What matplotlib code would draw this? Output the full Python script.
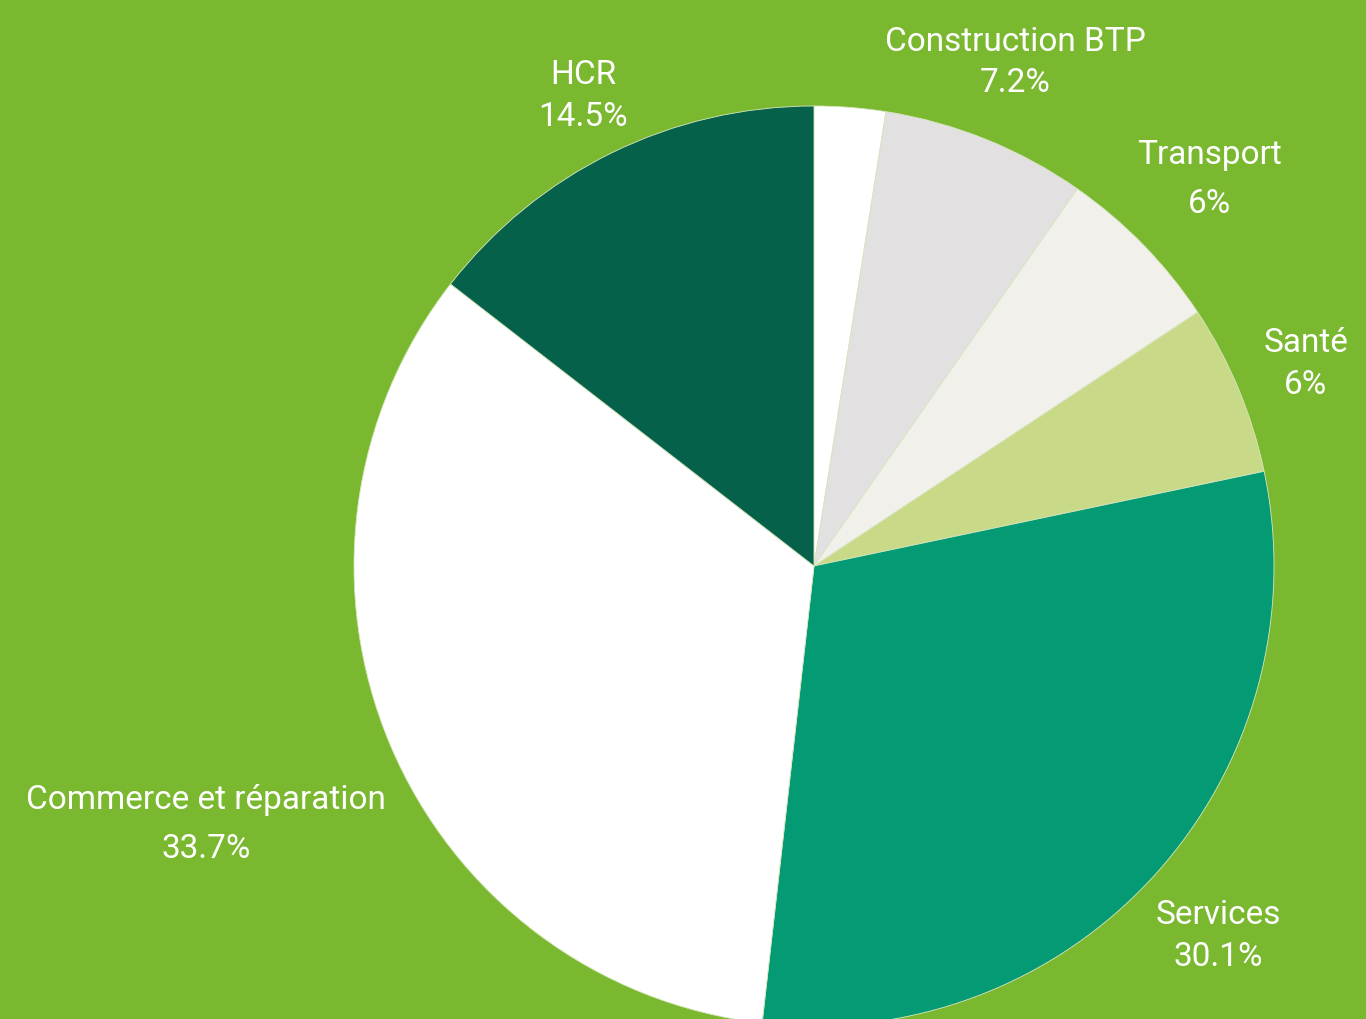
import matplotlib.pyplot as plt

# Data
sectors = ["Autres", "Construction BTP", "Transport", "Santé", "Services",
           "Commerce et réparation", "HCR"]
shares = [2.5, 7.2, 6, 6, 30.1, 33.7, 14.5]
value_labels = ["", "7.2%", "6%", "6%", "30.1%", "33.7%", "14.5%"]
colors = ["#FFFFFF", "#E3E0E1", "#F1F0EB", "#C8DA87", "#039A74",
          "#FFFFFF", "#05614A"]

# label positions in pixels (x, y of name line, y of value line), top-left origin
label_pos = {
    "Construction BTP": (1015, 42, 83),
    "Transport": (1210, 155, 204),
    "Santé": (1306, 343, 385),
    "Services": (1218, 915, 957),
    "Commerce et réparation": (206, 800, 849),
    "HCR": (583, 75, 117),
}

bg = "#7AB82F"
W, H = 1366, 1020

fig = plt.figure(figsize=(W / 100, H / 100), dpi=100, facecolor=bg)
ax = fig.add_axes([0, 0, 1, 1])
ax.set_facecolor(bg)
ax.set_xlim(0, W)
ax.set_ylim(0, H)
ax.axis("off")

ax.pie(shares, colors=colors, startangle=90, counterclock=False,
       center=(814, H - 567), radius=460,
       wedgeprops=dict(linewidth=0.6, edgecolor="#D8E6C0"))
ax.set_xlim(0, W)
ax.set_ylim(0, H)

font = ["Roboto", "DejaVu Sans"]
for name, val in zip(sectors, value_labels):
    if name not in label_pos:
        continue
    x, y1, y2 = label_pos[name]
    ax.text(x, H - y1, name, color="white", fontsize=24, family=font,
            ha="center", va="center")
    ax.text(x, H - y2, val, color="white", fontsize=24, family=font,
            ha="center", va="center")

fig.savefig("out.png", dpi=100, facecolor=bg)
